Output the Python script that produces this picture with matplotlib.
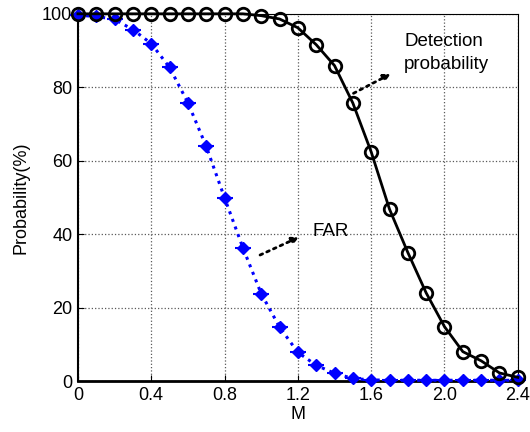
import numpy as np
import matplotlib.pyplot as plt

plt.rcParams['font.family'] = ['Liberation Sans', 'DejaVu Sans']

# M values and the two probability curves (%)
M = [0.0, 0.1, 0.2, 0.3, 0.4, 0.5, 0.6, 0.7, 0.8, 0.9, 1.0, 1.1, 1.2,
     1.3, 1.4, 1.5, 1.6, 1.7, 1.8, 1.9, 2.0, 2.1, 2.2, 2.3, 2.4]
detection = [100, 100, 100, 100, 100, 100, 100, 100, 100, 100, 99.5, 98.6, 96.2,
             91.6, 85.9, 75.7, 62.4, 46.8, 35.0, 24.0, 14.8, 8.0, 5.5, 2.2, 1.0]
far = [99.6, 99.3, 98.5, 95.7, 91.9, 85.4, 75.8, 63.9, 49.9, 36.3, 23.8, 14.7, 7.8,
       4.3, 2.1, 0.7, 0.3, 0.2, 0.2, 0.2, 0.2, 0.2, 0.2, 0.2, 0.2]
xticks = [0, 0.4, 0.8, 1.2, 1.6, 2.0, 2.4]
xticklabels = ['0', '0.4', '0.8', '1.2', '1.6', '2.0', '2.4']
yticks = [0, 20, 40, 60, 80, 100]

fig = plt.figure(figsize=(5.3, 4.32), dpi=100)
ax = fig.add_axes([0.147, 0.118, 0.83, 0.85])

# FAR curve (blue dotted with diamond markers)
ax.plot(M, far, color='blue', linestyle=':', linewidth=2.2,
        marker='D', markersize=6, markeredgewidth=1, zorder=3, clip_on=False)
ax.plot(M, far, color='blue', linestyle='none', marker='_',
        markersize=11, markeredgewidth=1.5, zorder=3, clip_on=False)

# detection curve (black solid, open circles)
ax.plot(M, detection, color='black', linestyle='-', linewidth=2,
        marker='o', markersize=9, markerfacecolor='none',
        markeredgewidth=2, zorder=4, clip_on=False)

# annotations
ax.annotate('', xy=(1.72, 84), xytext=(1.49, 78),
            arrowprops=dict(arrowstyle='-|>', linestyle=':', lw=2, color='black'))
ax.text(1.78, 89.4, 'Detection\nprobability', fontsize=13.5, va='center', ha='left',
        linespacing=1.45)
ax.annotate('', xy=(1.22, 39.5), xytext=(0.98, 34),
            arrowprops=dict(arrowstyle='-|>', linestyle=':', lw=2, color='black'))
ax.text(1.28, 40.8, 'FAR', fontsize=13.5, va='center', ha='left')

ax.set_xlim(0, 2.4)
ax.set_ylim(0, 100)
ax.set_xticks(xticks)
ax.set_xticklabels(xticklabels)
ax.set_yticks(yticks)
ax.tick_params(direction='in', labelsize=13, length=4, pad=4)
ax.grid(True, linestyle=':', color='0.35', linewidth=0.9)
ax.set_xlabel('M', fontsize=13, labelpad=2)
ax.set_ylabel('Probability(%)', fontsize=13, labelpad=9)
ax.spines['bottom'].set_linewidth(2)
ax.spines['left'].set_linewidth(1.5)

fig.savefig('out.png', dpi=100)
